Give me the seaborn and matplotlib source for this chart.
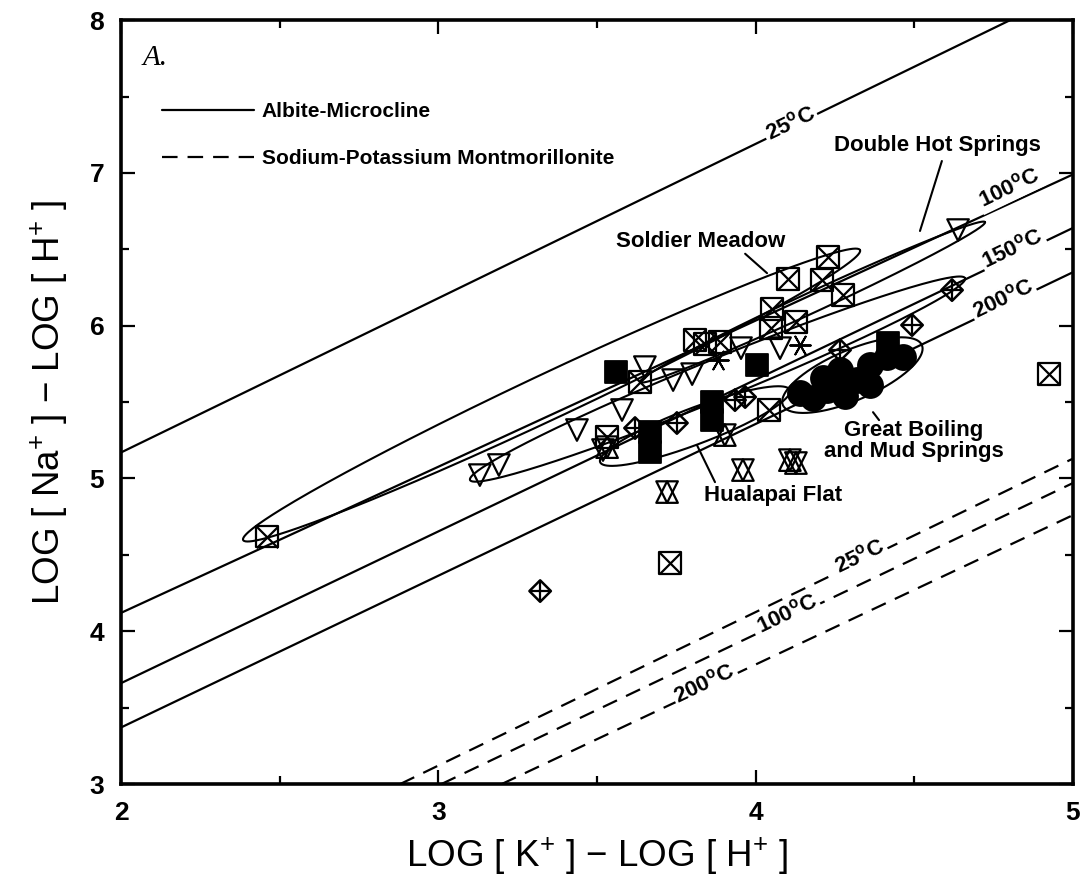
import numpy as np
import seaborn as sns
import matplotlib.pyplot as plt
from matplotlib.lines import Line2D

# ---- data ----
# albite-microcline equilibrium lines: value at x=2 and x=5
albite_temps = ["25", "100", "150", "200"]
albite_y2 = [5.17, 4.12, 3.66, 3.37]
albite_y5 = [8.20, 6.99, 6.64, 6.35]

# Na-K montmorillonite lines: x where y=3, and y at x=5
mont_temps = ["25", "100", "200"]
mont_x3 = [2.88, 3.01, 3.20]
mont_y5 = [5.13, 4.97, 4.76]

# square with cross
sqx_x = [2.46, 3.73, 4.925, 4.228, 4.102, 4.209, 4.275, 4.052, 4.127, 4.049, 3.888, 3.809, 3.841, 3.636, 3.532, 4.042]
sqx_y = [4.62, 4.446, 5.683, 6.449, 6.305, 6.298, 6.20, 6.109, 6.024, 5.984, 5.893, 5.906, 5.88, 5.631, 5.271, 5.448]
# filled squares
fsq_x = [3.56, 4.004, 3.863, 3.863, 3.667, 3.667, 4.417]
fsq_y = [5.696, 5.742, 5.50, 5.382, 5.304, 5.173, 5.886]
# filled circles (Great Boiling)
circ_x = [4.414, 4.465, 4.361, 4.32, 4.266, 4.225, 4.181, 4.14, 4.282, 4.361, 4.266, 4.212]
circ_y = [5.795, 5.795, 5.742, 5.644, 5.657, 5.579, 5.526, 5.559, 5.539, 5.611, 5.709, 5.657]
# open down triangles
tri_x = [4.638, 3.191, 3.131, 3.437, 3.579, 3.651, 3.519, 3.74, 3.80, 3.954, 4.077]
tri_y = [6.626, 5.088, 5.022, 5.317, 5.448, 5.729, 5.186, 5.644, 5.683, 5.853, 5.853]
# hourglass
hg_x = [3.721, 3.96, 4.108, 4.127, 3.903, 3.532]
hg_y = [4.911, 5.055, 5.12, 5.101, 5.284, 5.205]
# diamond with plus
dia_x = [3.321, 3.62, 3.752, 3.935, 3.967, 4.266, 4.493, 4.619]
dia_y = [4.263, 5.33, 5.363, 5.513, 5.533, 5.84, 6.004, 6.233]
# asterisks
ast_x = [3.882, 4.14]
ast_y = [5.775, 5.873]

# envelopes: (x0, y0, x1, y1, half width in x units)
loops = [
    (2.385, 4.597, 4.329, 6.495, 0.072),
    (3.100, 4.990, 4.660, 6.311, 0.063),
    (3.636, 5.631, 4.723, 6.678, 0.032),
    (3.510, 5.107, 4.108, 5.579, 0.057),
    (4.086, 5.480, 4.524, 5.873, 0.079),
]

sns.set_theme(style="ticks")
plt.rcParams['font.family'] = ['Liberation Sans', 'DejaVu Sans']
plt.rcParams['mathtext.default'] = 'regular'
plt.rcParams.update({'text.color': 'black', 'axes.labelcolor': 'black',
                     'xtick.color': 'black', 'ytick.color': 'black'})

fig = plt.figure(figsize=(10.83, 8.76), dpi=100)
ax = fig.add_axes([0.1117, 0.105, 0.879, 0.872])
ax.set_xlim(2, 5)
ax.set_ylim(3, 8)
r = (0.872 * 876 / 5) / (0.879 * 1083 / 3)  # y px per unit / x px per unit

# equilibrium lines
for t, a, b in zip(albite_temps, albite_y2, albite_y5):
    sns.lineplot(x=[2, 5], y=[a, b], color='black', lw=1.6, ax=ax)
for t, a, b in zip(mont_temps, mont_x3, mont_y5):
    sns.lineplot(x=[a, 5], y=[3, b], color='black', lw=1.6, ax=ax, linestyle=(0, (7, 4.5)))

rot = np.degrees(np.arctan(r))
lab_kw = dict(ha='center', va='center', rotation=rot, rotation_mode='anchor', fontsize=16,
              fontweight='bold', bbox=dict(fc='white', ec='none', pad=1.5), zorder=4)
for t, xl, dy in zip(albite_temps, [4.11, 4.80, 4.81, 4.78], [0.02, 0.1, 0.05, 0.04]):
    i = albite_temps.index(t)
    yl = albite_y2[i] + (albite_y5[i] - albite_y2[i]) * (xl - 2) / 3
    ax.text(xl, yl + dy, t + '$^{o}$C', **lab_kw)
for t, xl in zip(mont_temps, [4.33, 4.10, 3.84]):
    i = mont_temps.index(t)
    yl = 3 + (mont_y5[i] - 3) * (xl - mont_x3[i]) / (5 - mont_x3[i])
    ax.text(xl, yl + 0.03, t + '$^{o}$C', **lab_kw)

# envelopes
tt = np.linspace(0, 2 * np.pi, 300)
for x0, y0, x1, y1, hw in loops:
    u0, v0, u1, v1 = x0, y0 * r, x1, y1 * r
    a = np.hypot(u1 - u0, v1 - v0) / 2
    ang = np.arctan2(v1 - v0, u1 - u0)
    eu, ev = a * np.cos(tt), hw * np.sin(tt)
    u = (u0 + u1) / 2 + eu * np.cos(ang) - ev * np.sin(ang)
    v = (v0 + v1) / 2 + eu * np.sin(ang) + ev * np.cos(ang)
    ax.plot(u, v / r, color='black', lw=1.5, zorder=3)

# points
mk = dict(ax=ax, legend=False, zorder=5)
sns.scatterplot(x=circ_x, y=circ_y, marker='o', s=320, color='black', edgecolor='black', **mk)
sns.scatterplot(x=fsq_x, y=fsq_y, marker='s', s=260, color='black', edgecolor='black', **mk)
sns.scatterplot(x=sqx_x, y=sqx_y, marker='s', s=240, facecolor='none', edgecolor='black', linewidth=1.6, **mk)
sns.scatterplot(x=sqx_x, y=sqx_y, marker='x', s=240, color='black', linewidth=1.6, **mk)
sns.scatterplot(x=tri_x, y=tri_y, marker='v', s=240, facecolor='none', edgecolor='black', linewidth=1.6, **mk)
sns.scatterplot(x=hg_x, y=hg_y, marker='v', s=240, facecolor='none', edgecolor='black', linewidth=1.6, **mk)
sns.scatterplot(x=hg_x, y=hg_y, marker='^', s=240, facecolor='none', edgecolor='black', linewidth=1.6, **mk)
sns.scatterplot(x=dia_x, y=dia_y, marker='D', s=120, facecolor='none', edgecolor='black', linewidth=1.8, **mk)
sns.scatterplot(x=dia_x, y=dia_y, marker='+', s=230, color='black', linewidth=1.6, **mk)
sns.scatterplot(x=ast_x, y=ast_y, marker=(6, 2, 30), s=220, color='black', linewidth=1.4, **mk)

# site labels and pointers
txt = dict(fontsize=16, fontweight='bold', ha='center', va='center', zorder=6)
ax.text(3.828, 6.554, 'Soldier Meadow', **txt)
ax.plot([3.967, 4.036], [6.471, 6.344], color='black', lw=1.5)
ax.text(4.572, 7.182, 'Double Hot Springs', **txt)
ax.plot([4.587, 4.518], [7.078, 6.62], color='black', lw=1.5)
ax.text(4.499, 5.245, 'Great Boiling\nand Mud Springs', linespacing=1.0, **txt)
ax.plot([4.370, 4.389], [5.434, 5.382], color='black', lw=1.5)
ax.text(4.055, 4.891, 'Hualapai Flat', **txt)
ax.plot([3.872, 3.815], [4.976, 5.219], color='black', lw=1.5)

ax.text(0.023, 0.941, 'A.', transform=ax.transAxes, fontsize=21, fontstyle='italic',
        family='Liberation Serif')

handles = [Line2D([], [], color='black', lw=1.6),
           Line2D([], [], color='black', lw=1.6, linestyle=(0, (7, 4.5)))]
ax.legend(handles, ['Albite-Microcline', 'Sodium-Potassium Montmorillonite'],
          loc='upper left', bbox_to_anchor=(0.043, 0.893), frameon=False, borderpad=0,
          borderaxespad=0, handlelength=4.4, handletextpad=0.4, labelspacing=1.35,
          prop={'weight': 'bold', 'size': 15})

# axes styling
ax.set_xticks([2, 3, 4, 5])
ax.set_yticks([3, 4, 5, 6, 7, 8])
ax.set_xticks([2.5, 3.5, 4.5], minor=True)
ax.set_yticks([3.5, 4.5, 5.5, 6.5, 7.5], minor=True)
ax.tick_params(which='both', direction='in', top=True, right=True, width=1.6,
               labelsize=19, pad=12)
ax.tick_params(which='major', length=10)
ax.tick_params(which='minor', length=6)
for lbl in ax.get_xticklabels() + ax.get_yticklabels():
    lbl.set_fontweight('bold')
for sp in ax.spines.values():
    sp.set_linewidth(2.6)
    sp.set_color('black')

ax.set_xlabel('LOG [ K$^{+}$ ] $-$ LOG [ H$^{+}$ ]', fontsize=26.5, labelpad=8)
ax.set_ylabel('LOG [ Na$^{+}$ ] $-$ LOG [ H$^{+}$ ]', fontsize=26.5, labelpad=14)

fig.savefig('out.png', dpi=100)
